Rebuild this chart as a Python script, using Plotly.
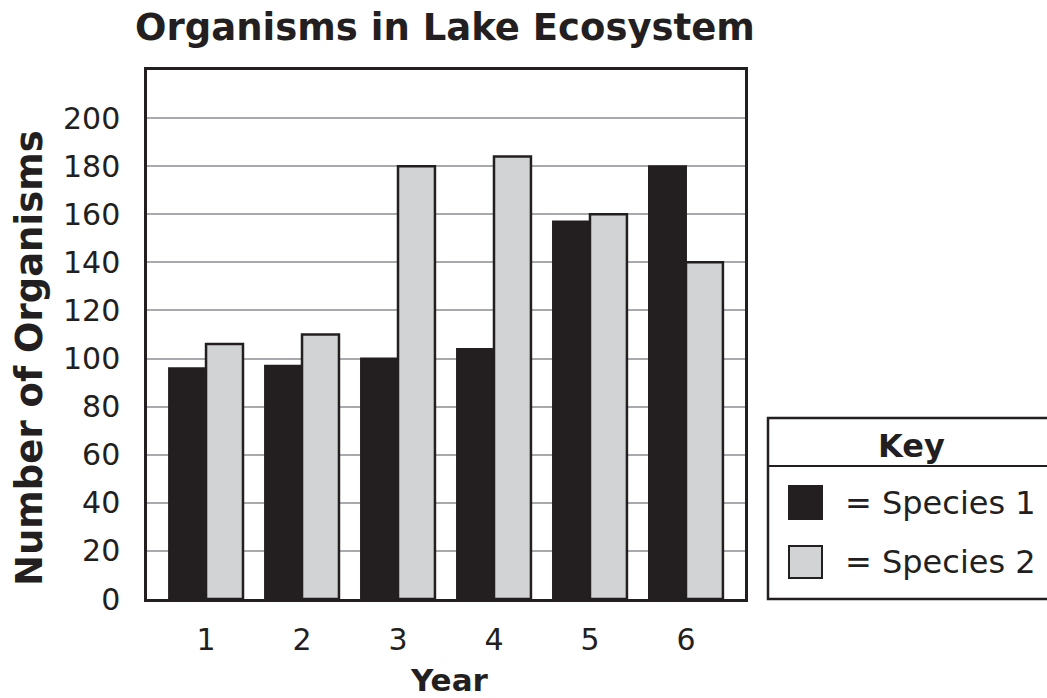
import plotly.graph_objects as go

years = [1, 2, 3, 4, 5, 6]
year_labels = ["1", "2", "3", "4", "5", "6"]
species1 = [96, 97, 100, 104, 157, 180]
species2 = [106, 110, 180, 184, 160, 140]
y_ticks = [0, 20, 40, 60, 80, 100, 120, 140, 160, 180, 200]

DARK = "#231f20"
LIGHT = "#d1d3d4"
FONT = "DejaVu Sans"

fig = go.Figure()
fig.add_trace(go.Bar(x=years, y=species1, name="Species 1",
                     marker=dict(color=DARK, line=dict(color=DARK, width=2))))
fig.add_trace(go.Bar(x=years, y=species2, name="Species 2",
                     marker=dict(color=LIGHT, line=dict(color=DARK, width=2.5))))

L, R, T, B = 147, 302, 70, 99
W, H = 1047, 698
pw, ph = W - L - R, H - T - B

def px(x):
    return (x - L) / pw

def py(y):
    return (H - B - y) / ph

fig.update_layout(
    width=W, height=H,
    margin=dict(l=L, r=R, t=T, b=B),
    paper_bgcolor="white", plot_bgcolor="white",
    barmode="group", bargap=0.23, bargroupgap=0,
    showlegend=False,
    font=dict(family=FONT, color=DARK, size=30),
    title=dict(text="<b>Organisms in Lake Ecosystem</b>", x=(135 + 755) / 2 / W,
               xanchor="center", y=1 - 27 / H, yanchor="middle",
               font=dict(family=FONT, size=37, color=DARK)),
    xaxis=dict(range=[0.385, 6.615], tickvals=years, ticktext=year_labels,
               showgrid=False, zeroline=False,
               showline=True, mirror=True, linecolor=DARK, linewidth=2.5,
               ticks="", ticklabelstandoff=12,
               tickfont=dict(family=FONT, size=30, color=DARK)),
    yaxis=dict(range=[0, 220], tickvals=y_ticks,
               showgrid=True, gridcolor="#a7a9ac", gridwidth=1.5,
               zeroline=False,
               showline=True, mirror=True, linecolor=DARK, linewidth=2.5,
               ticks="", ticklabelstandoff=18,
               tickfont=dict(family=FONT, size=30, color=DARK)),
)

annotations = [
    dict(text="<b>Number of Organisms</b>", textangle=-90, x=px(29), y=py(358),
         xref="paper", yref="paper", xanchor="center", yanchor="middle", showarrow=False,
         font=dict(family=FONT, size=37, color=DARK)),
    dict(text="<b>Year</b>", x=px(449), y=py(680), xref="paper", yref="paper",
         xanchor="center", yanchor="middle",
         showarrow=False, font=dict(family=FONT, size=31, color=DARK)),
    dict(text="<b>Key</b>", x=px(911), y=py(446), xref="paper", yref="paper",
         xanchor="center", yanchor="middle",
         showarrow=False, font=dict(family=FONT, size=32, color=DARK)),
    dict(text="= Species 1", x=px(843), y=py(503), xref="paper", yref="paper",
         xanchor="left", yanchor="middle", showarrow=False,
         font=dict(family=FONT, size=32, color=DARK)),
    dict(text="= Species 2", x=px(843), y=py(562), xref="paper", yref="paper",
         xanchor="left", yanchor="middle", showarrow=False,
         font=dict(family=FONT, size=32, color=DARK)),
]
fig.update_layout(annotations=annotations)

shapes = [
    dict(type="rect", xref="paper", yref="paper", x0=px(768), x1=px(1050),
         y0=py(599), y1=py(418), line=dict(color=DARK, width=2.5), fillcolor="rgba(0,0,0,0)"),
    dict(type="line", xref="paper", yref="paper", x0=px(768), x1=px(1050),
         y0=py(466), y1=py(466), line=dict(color=DARK, width=2)),
    dict(type="rect", xref="paper", yref="paper", x0=px(789), x1=px(822),
         y0=py(519), y1=py(486), line=dict(color=DARK, width=2), fillcolor=DARK),
    dict(type="rect", xref="paper", yref="paper", x0=px(789), x1=px(822),
         y0=py(578), y1=py(546), line=dict(color=DARK, width=2), fillcolor=LIGHT),
]
fig.update_layout(shapes=shapes)

fig.write_html("out.html", config={"displayModeBar": False},
               post_script="document.body.style.margin='0';document.body.style.overflow='hidden';")
